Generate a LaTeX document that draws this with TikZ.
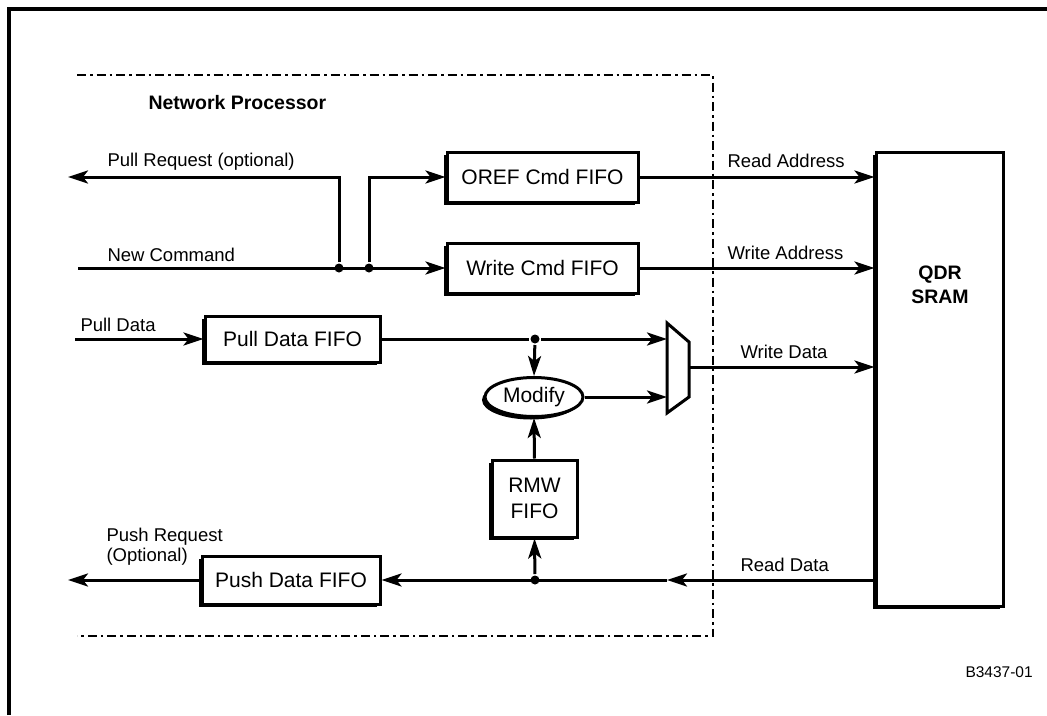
\documentclass[tikz,border=0pt]{standalone}
\usepackage{fontspec}
\setmainfont{Liberation Sans}
\usetikzlibrary{shapes,arrows.meta,shadows}

\begin{document}
\begin{tikzpicture}[x=1pt,y=-1pt,->,>={Stealth[length=20pt,width=13pt,inset=5pt]},
  line width=3pt,
  fifo/.style={rectangle,draw,fill=white,line width=3pt,inner sep=0pt,
    font=\fontsize{21}{25}\selectfont,
    drop shadow={shadow xshift=-3pt,shadow yshift=-3pt,opacity=1,fill=black}},
  lbl/.style={inner sep=0pt,anchor=west,font=\fontsize{18.5}{21}\selectfont},
  dot/.style={circle,fill,inner sep=0pt,minimum size=9pt},
  np border/.style={-,line width=2.8pt,dash pattern=on 9pt off 4pt on 2.5pt off 4pt}]

  \useasboundingbox (0,0) rectangle (1047,715);

  % frame and processor boundary
  \draw[-,line width=3.4pt] (9,715) -- (9,9) -- (1047,9);
  \draw[np border] (77,75) -- (713,75) -- (713,636) -- (77,636);
  \node[lbl,font=\fontsize{19.5}{22}\selectfont\bfseries] (np) at (147,103) {Network Processor};

  % fifos
  \node[fifo,minimum width=191pt,minimum height=50pt] (oref) at (542.5,177) {OREF Cmd FIFO};
  \node[fifo,minimum width=191pt,minimum height=50pt] (wcmd) at (542.5,268) {Write Cmd FIFO};
  \node[fifo,minimum width=175pt,minimum height=46pt] (pull) at (292.5,339) {Pull Data FIFO};
  \node[fifo,minimum width=178pt,minimum height=48pt] (push) at (291,580) {Push Data FIFO};
  \node[fifo,minimum width=85pt,minimum height=77pt,align=center,
    font=\fontsize{21}{26}\selectfont] (rmw) at (534.5,498.5) {RMW\\FIFO};
  \node[fifo,ellipse,minimum width=98pt,minimum height=39pt] (modify) at (534,397) {Modify};
  \node[fifo,minimum width=127pt,minimum height=454pt] (qdr) at (939.5,379) {};
  \node[inner sep=0pt,align=center,font=\fontsize{19.5}{24}\selectfont\bfseries]
    (qdrname) at (940,285) {QDR\\SRAM};

  % mux
  \draw[-,line width=3pt,line join=miter] (667,323) -- (689,342) -- (689,397) -- (667,413) -- cycle;
  \coordinate (muxa) at (667,339);
  \coordinate (muxb) at (667,397);
  \coordinate (muxout) at (689,367);

  % junctions and free ends
  \node[dot] (j1) at (339,268) {};
  \node[dot] (j2) at (369,268) {};
  \node[dot] (j3) at (535,339) {};
  \node[dot] (j4) at (535,580) {};
  \coordinate (newcmd) at (78,268);
  \coordinate (pullreq) at (68,177);
  \coordinate (pulldata) at (75,339);
  \coordinate (pushreq) at (68,580);
  \coordinate (rdmid) at (667,580);

  % command path
  \draw (newcmd) -- (wcmd.west);
  \draw (j2) |- (oref.west);
  \draw (j1) |- (pullreq);
  \draw (oref.east) -- (qdr.west |- oref.east);
  \draw (wcmd.east) -- (qdr.west |- wcmd.east);

  % write data path
  \draw (pulldata) -- (pull.west);
  \draw[-] (pull.east) -- (j3);
  \draw (j3) -- (muxa);
  \draw (j3) -- (modify.north);
  \draw (modify.east) -- (muxb);
  \draw (muxout) -- (qdr.west |- muxout);

  % read data path
  \draw (qdr.west |- rdmid) -- (rdmid);
  \draw (rdmid) -- (push.east);
  \draw (j4) -- (rmw.south);
  \draw (rmw.north) -- (modify.south);
  \draw (push.west) -- (pushreq);

  % labels
  \node[lbl] (lpullreq) at (106,162) {Pull Request (optional)};
  \node[lbl] (lnewcmd) at (106,255) {New Command};
  \node[lbl] (lpulldata) at (79,325) {Pull Data};
  \node[lbl] (lrdaddr) at (726,161) {Read Address};
  \node[lbl] (lwraddr) at (726,253) {Write Address};
  \node[lbl] (lwrdata) at (739,352) {Write Data};
  \node[lbl] (lrddata) at (739,565) {Read Data};
  \node[lbl,align=left,font=\fontsize{18.5}{20}\selectfont] (lpushreq) at (105,547)
    {Push Request\\(Optional)};
  \node[lbl,font=\fontsize{15.5}{18}\selectfont] (fig) at (964,672) {B3437-01};
\end{tikzpicture}
\end{document}
